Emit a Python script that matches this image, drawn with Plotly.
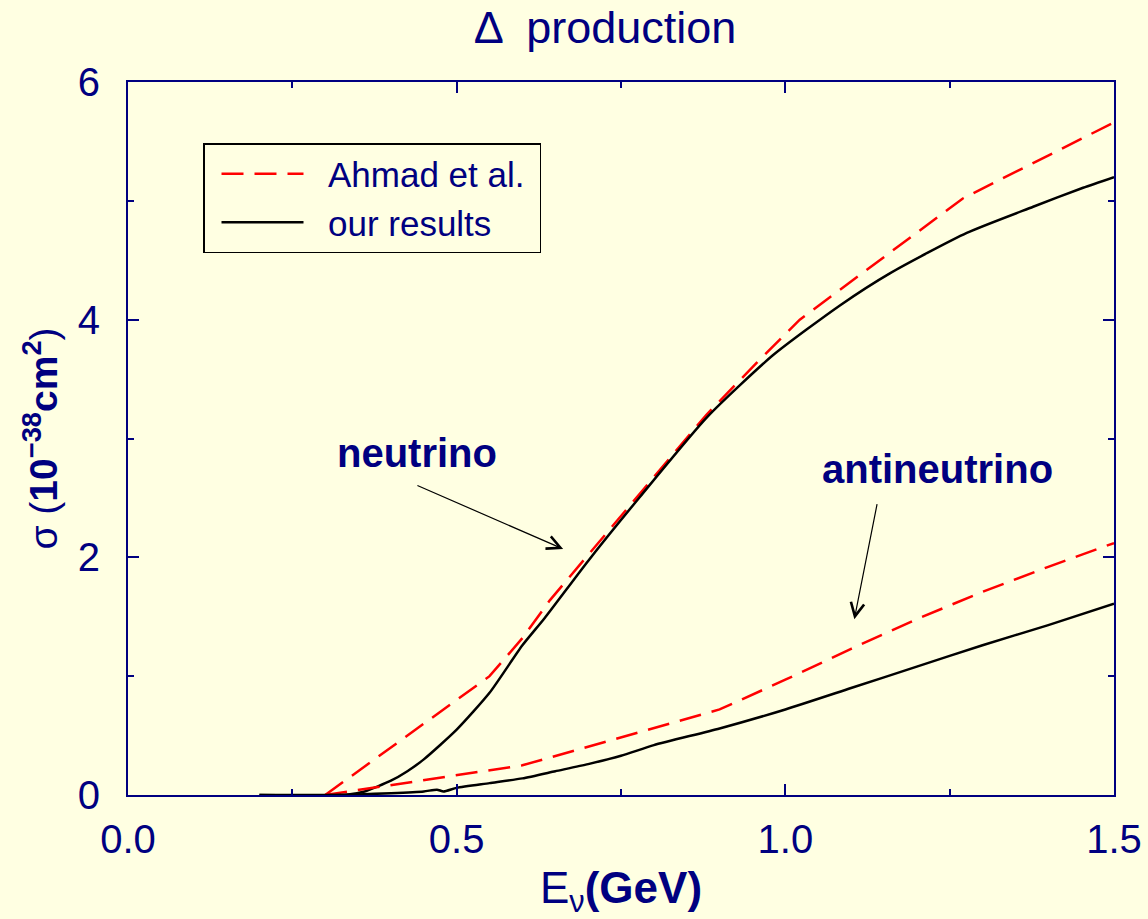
import plotly.graph_objects as go

# ---------------- data ----------------
nu_ahmad_E = [0.30, 0.55, 0.60, 0.642, 0.70, 0.75, 0.80, 0.88, 0.957, 1.022, 1.27, 1.50]
nu_ahmad_s = [0.00, 1.00, 1.32, 1.64, 2.02, 2.35, 2.68, 3.20, 3.64, 4.00, 5.02, 5.66]

nu_ours_E = [0.20, 0.33, 0.36, 0.40, 0.425, 0.45, 0.50, 0.55, 0.60, 0.634, 0.70, 0.779,
             0.881, 0.981, 1.083, 1.159, 1.276, 1.377, 1.453, 1.50]
nu_ours_s = [0.00, 0.00, 0.03, 0.12, 0.20, 0.30, 0.55, 0.86, 1.26, 1.49, 1.97, 2.51,
             3.18, 3.70, 4.12, 4.39, 4.73, 4.95, 5.11, 5.20]

anu_ahmad_E = [0.30, 0.60, 0.90, 1.00, 1.10, 1.20, 1.30, 1.40, 1.50]
anu_ahmad_s = [0.00, 0.25, 0.72, 0.97, 1.23, 1.48, 1.71, 1.92, 2.12]

anu_ours_E = [0.20, 0.30, 0.35, 0.40, 0.45, 0.47, 0.48, 0.50, 0.55, 0.60, 0.65, 0.70,
              0.75, 0.80, 0.90, 1.00, 1.10, 1.20, 1.30, 1.40, 1.50]
anu_ours_s = [0.00, 0.00, 0.005, 0.015, 0.03, 0.045, 0.03, 0.06, 0.10, 0.14, 0.20, 0.26,
              0.33, 0.42, 0.56, 0.72, 0.90, 1.08, 1.26, 1.43, 1.61]

x_ticks = [0.0, 0.5, 1.0, 1.5]
x_ticktext = ["0.0", "0.5", "1.0", "1.5"]
y_ticks = [0, 2, 4, 6]
y_ticktext = ["0", "2", "4", "6"]

series_names = ["Ahmad et al.", "our results"]

# annotation anchors (data coordinates)
labels = ["neutrino", "antineutrino"]
label_pos = [(0.439, 2.88), (1.232, 2.74)]
arrow_tail = [(0.438, 2.61), (1.140, 2.46)]
arrow_head = [(0.662, 2.07), (1.105, 1.48)]

# ---------------- styling ----------------
NAVY = "#000080"
BG = "#FFFFE2"
FONT = "Liberation Sans, Arial, Helvetica, sans-serif"
RED_DASH = dict(color="#FF0000", width=2.5, dash="22px,11px")
BLACK = dict(color="#000000", width=2.5, shape="spline", smoothing=0.6)
PAD_L = "\u00a0\u00a0"   # gap between legend sample line and its label
PAD_R = "\u00a0"

fig = go.Figure()
fig.add_trace(go.Scatter(x=nu_ahmad_E, y=nu_ahmad_s, mode="lines", line=RED_DASH,
                         name=PAD_L + series_names[0] + PAD_R, legendgroup="a",
                         showlegend=True))
fig.add_trace(go.Scatter(x=nu_ours_E, y=nu_ours_s, mode="lines", line=BLACK,
                         name=PAD_L + series_names[1] + PAD_R, legendgroup="b",
                         showlegend=True))
fig.add_trace(go.Scatter(x=anu_ahmad_E, y=anu_ahmad_s, mode="lines", line=RED_DASH,
                         name=series_names[0], legendgroup="a", showlegend=False))
fig.add_trace(go.Scatter(x=anu_ours_E, y=anu_ours_s, mode="lines", line=BLACK,
                         name=series_names[1], legendgroup="b", showlegend=False))

annotations = []
for txt, (lx, ly) in zip(labels, label_pos):
    annotations.append(dict(x=lx, y=ly, xref="x", yref="y", text="<b>%s</b>" % txt,
                            showarrow=False, font=dict(size=40, color=NAVY, family=FONT),
                            xanchor="center", yanchor="middle"))
for (tx, ty), (hx, hy) in zip(arrow_tail, arrow_head):
    annotations.append(dict(x=hx, y=hy, ax=tx, ay=ty, xref="x", yref="y",
                            axref="x", ayref="y", text="", showarrow=True,
                            arrowhead=5, arrowsize=2.2, arrowwidth=1.2,
                            arrowcolor="#000000", standoff=0, startstandoff=0))

axis_common = dict(showline=True, linecolor=NAVY, linewidth=2, mirror="ticks",
                   ticks="inside", ticklen=11, tickwidth=1.5, tickcolor=NAVY,
                   showgrid=False, zeroline=False, automargin=False,
                   tickfont=dict(size=40, color=NAVY, family=FONT))

fig.update_layout(
    width=1148, height=919,
    margin=dict(l=128, r=34, t=82, b=124, autoexpand=False),
    paper_bgcolor=BG, plot_bgcolor=BG,
    font=dict(family=FONT, color=NAVY),
    title=dict(text="\u0394  production", x=0.527, xanchor="center",
               y=1 - 27 / 919, yanchor="middle", yref="container",
               font=dict(size=45, color=NAVY, family=FONT)),
    xaxis=dict(range=[0, 1.5], tickvals=x_ticks, ticktext=x_ticktext,
               minor=dict(ticks="inside", ticklen=6, tickwidth=1.5, tickcolor=NAVY,
                          dtick=0.25, showgrid=False),
               ticklabelstandoff=8,
               title=dict(text="E<sub>\u03bd</sub><b>(GeV)</b>", standoff=12,
                          font=dict(size=44, color=NAVY, family=FONT)),
               **axis_common),
    yaxis=dict(range=[0, 6], tickvals=y_ticks, ticktext=y_ticktext,
               minor=dict(ticks="inside", ticklen=6, tickwidth=1.5, tickcolor=NAVY,
                          dtick=1, showgrid=False),
               ticklabelstandoff=18,
               title=dict(text="\u03c3 (<b>10<sup>\u221238</sup>cm<sup>2</sup></b>)",
                          standoff=8,
                          font=dict(size=39, color=NAVY, family=FONT)),
               **axis_common),
    legend=dict(x=(203 - 128) / 986, y=(795 - 143) / 713, xanchor="left", yanchor="top",
                bgcolor=BG, bordercolor="#000000", borderwidth=1.5,
                font=dict(size=35, color=NAVY, family=FONT),
                itemwidth=82, indentation=12, tracegroupgap=0),
    annotations=annotations,
    showlegend=True,
)

fig.write_html("out.html")
